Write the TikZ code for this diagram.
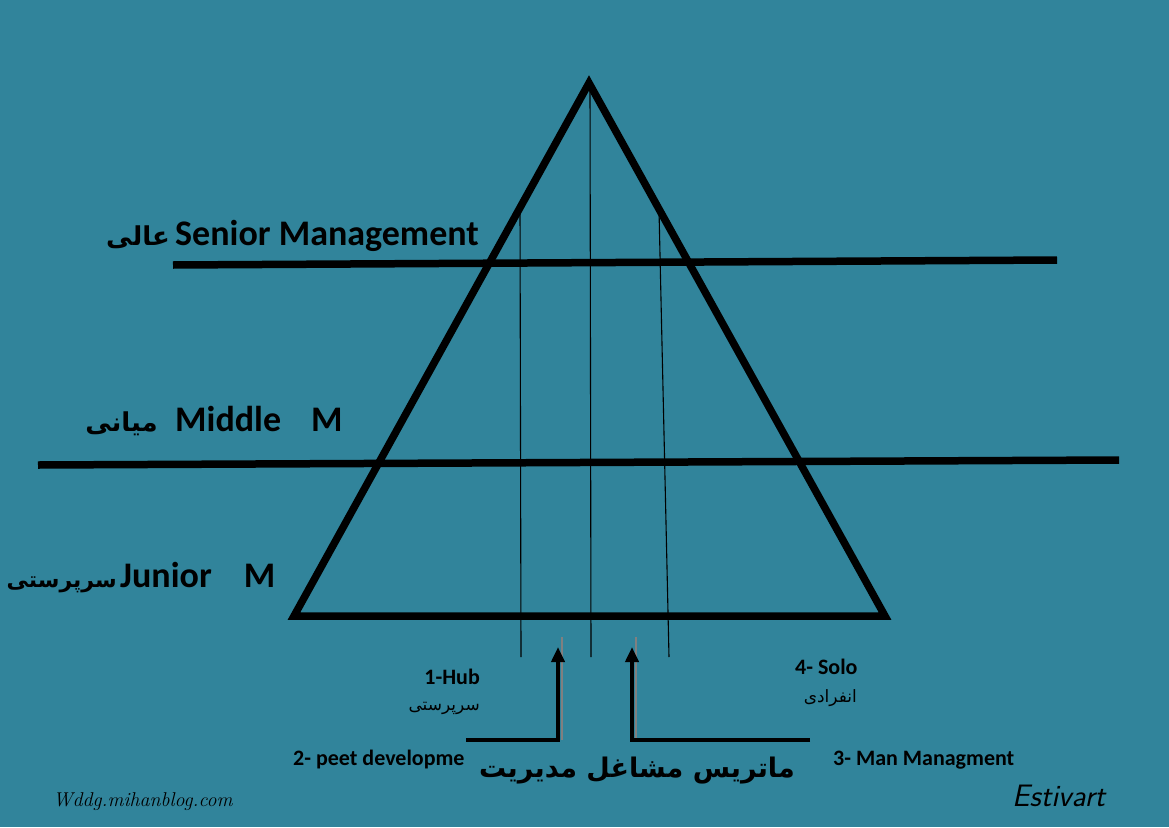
\documentclass[tikz,border=0pt]{standalone}
\usepackage{fontspec}
\setmainfont{Carlito}
\newfontfamily\arabicfont[Script=Arabic]{DejaVu Sans}
\newfontfamily\webfont{Latin Modern Roman}
\newfontfamily\signfont{Latin Modern Sans}
\TeXXeTstate=1
\usetikzlibrary{arrows.meta}
\definecolor{bgteal}{RGB}{49,132,155}

\begin{document}
\begin{tikzpicture}[x=1pt, y=-1pt, >={Triangle[width=13pt,length=15pt]}]
\tikzset{
  level/.style={line width=7.5pt},
  guide/.style={line width=1.1pt},
  feed/.style={line width=4.5pt, ->},
  shade/.style={line width=2pt, gray},
  eng/.style={font=\fontsize{36}{40}\selectfont\bfseries, inner sep=0pt},
  fa/.style={font=\arabicfont\fontsize{26}{30}\selectfont\bfseries, inner sep=0pt},
  small/.style={font=\fontsize{22}{25}\selectfont\bfseries, inner sep=0pt},
  smallfa/.style={font=\arabicfont\fontsize{17}{20}\selectfont, inner sep=0pt},
}

        % Hintergrund
        \fill[bgteal] (0,0) rectangle (1169,827);
        \useasboundingbox (0,0) rectangle (1169,827);

        % Dreieck
        \coordinate (apex) at (589,83);
        \coordinate (bl) at (294,616);
        \coordinate (br) at (885,616);
        \draw[level, line join=miter] (apex) -- (bl) -- (br) -- cycle;

        % Ebenen
        \coordinate (senL) at (173,265);
        \coordinate (senR) at (1057,260);
        \coordinate (midL) at (38,465);
        \coordinate (midR) at (1119,460);
        \draw[level] (senL) -- (senR);
        \draw[level] (midL) -- (midR);

        % Hilfslinien
        \coordinate (g1t) at (520,207);
        \coordinate (g1b) at (521,657);
        \coordinate (g2t) at (590,85);
        \coordinate (g2b) at (591,657);
        \coordinate (g3t) at (659,210);
        \coordinate (g3b) at (669,657);
        \draw[guide] (g1t) -- (g1b);
        \draw[guide] (g2t) -- (g2b);
        \draw[guide] (g3t) -- (g3b);

        % Beschriftung links
        \node[eng, anchor=base west] (senior) at (175,245) {Senior Management};
        \node[fa, anchor=base east] (seniorfa) at (170,245) {\beginR عالی\endR};
        \node[eng, anchor=base west] (middle) at (175,431) {Middle\hspace{30pt}M};
        \node[fa, anchor=base east] (middlefa) at (158,431) {\beginR میانی\endR};
        \node[eng, anchor=base west] (junior) at (120,587) {Junior\hspace{32pt}M};
        \node[fa, font=\arabicfont\fontsize{22}{26}\selectfont\bfseries, anchor=base east] (juniorfa) at (117,587) {\beginR سرپرستی\endR};

        % Beschriftung unten
        \node[small, anchor=base east] (hub) at (480,684) {1-Hub};
        \node[smallfa, anchor=base east] (hubfa) at (480,710) {\beginR سرپرستی\endR};
        \node[small, anchor=base west] (solo) at (795,674) {4- Solo};
        \node[smallfa, anchor=base east] (solofa) at (857,702) {\beginR انفرادی\endR};
        \node[small, anchor=base west] (peet) at (293,765) {2- peet developme};
        \node[small, anchor=base west] (man) at (833,765) {3- Man Managment};
        \node[font=\arabicfont\fontsize{27}{31}\selectfont\bfseries, inner sep=0pt] (title) at (637,771) {\beginR ماتریس مشاغل مدیریت\endR};

        % Pfeile
        \coordinate (hubS) at (466,740);
        \coordinate (hubC) at (558,740);
        \coordinate (hubE) at (558,647);
        \coordinate (manS) at (810,740);
        \coordinate (manC) at (632,740);
        \coordinate (manE) at (632,647);
        \draw[shade] ([xshift=3.5pt]hubC) -- ([xshift=3.5pt,yshift=10pt]hubE);
        \draw[shade] ([xshift=3.5pt]manC) -- ([xshift=3.5pt,yshift=10pt]manE);
        \draw[feed] (hubS) -- (hubC) -- (hubE);
        \draw[feed] (manS) -- (manC) -- (manE);

        % Signaturen
        \node[font=\webfont\itshape\fontsize{20}{24}\selectfont, inner sep=0pt, anchor=base west] (web) at (53,806) {Wddg.mihanblog.com};
        \node[font=\signfont\itshape\fontsize{31}{34}\selectfont, inner sep=0pt, anchor=base west] (sign) at (1012,806) {Estivart};

    \end{tikzpicture}
\end{document}
